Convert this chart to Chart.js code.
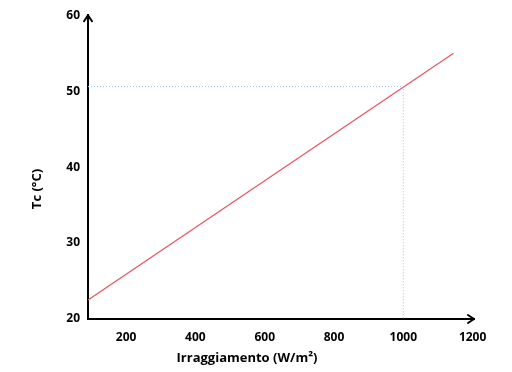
<!DOCTYPE html>
<html>
<head>
<meta charset="utf-8">
<script src="https://cdn.jsdelivr.net/npm/chart.js@4/dist/chart.umd.min.js"></script>
<style>
html,body{margin:0;padding:0;background:#fff;}
#wrap{width:512px;height:372px;position:relative;}
</style>
</head>
<body>
<div id="wrap"><canvas id="c" width="512" height="372"></canvas></div>
<script>
// Data
const irradiance = [90, 1145];
const tcValues = [22.5, 55];
const guideX = [90, 1000, 1000];
const guideY = [50.6, 50.6, 20];
const xTicks = [200, 400, 600, 800, 1000, 1200];
const yTicks = [20, 30, 40, 50, 60];
const xTitle = 'Irraggiamento (W/m²)';
const yTitle = 'Tc (°C)';

const FONT = '"Open Sans", Lato, sans-serif';

const axisDeco = {
  id: 'axisDeco',
  afterDraw(chart) {
    const {ctx, chartArea: a} = chart;
    ctx.save();
    ctx.strokeStyle = '#000';
    ctx.lineWidth = 2;
    ctx.lineCap = 'round';
    ctx.lineJoin = 'round';
    // top arrow
    ctx.beginPath();
    ctx.moveTo(a.left - 4, a.top + 6);
    ctx.lineTo(a.left, a.top);
    ctx.lineTo(a.left + 4, a.top + 6);
    ctx.stroke();
    // right arrow
    ctx.beginPath();
    ctx.moveTo(a.right - 6, a.bottom - 4);
    ctx.lineTo(a.right, a.bottom);
    ctx.lineTo(a.right - 6, a.bottom + 4);
    ctx.stroke();
    // titles
    ctx.fillStyle = '#000';
    ctx.font = 'bold 13px ' + FONT;
    ctx.textAlign = 'center';
    ctx.textBaseline = 'middle';
    ctx.fillText(xTitle, 247, 358);
    ctx.translate(37, 189);
    ctx.rotate(-Math.PI / 2);
    ctx.fillText(yTitle, 0, 0);
    ctx.restore();
  }
};

new Chart(document.getElementById('c'), {
  type: 'scatter',
  data: {
    datasets: [
      {
        data: guideX.map((x, i) => ({x, y: guideY[i]})),
        showLine: true,
        borderColor: '#9dc3e6',
        borderWidth: 1,
        borderDash: [1, 2],
        pointRadius: 0,
        fill: false
      },
      {
        data: irradiance.map((x, i) => ({x, y: tcValues[i]})),
        showLine: true,
        borderColor: '#e9545e',
        borderWidth: 1.2,
        pointRadius: 0,
        fill: false
      }
    ]
  },
  options: {
    responsive: false,
    animation: false,
    layout: {padding: {top: 15, right: 38, left: 0, bottom: 0}},
    plugins: {legend: {display: false}, tooltip: {enabled: false}},
    scales: {
      x: {
        type: 'linear',
        min: 90,
        max: 1204,
        afterBuildTicks(s) { s.ticks = xTicks.map(v => ({value: v})); },
        afterFit(s) { s.height = 53; },
        grid: {display: false, drawTicks: false},
        border: {display: true, color: '#000', width: 2},
        ticks: {
          padding: 11,
          color: '#000',
          callback: v => String(v),
          font: {family: FONT, size: 12, weight: 'bold'}
        }
      },
      y: {
        type: 'linear',
        min: 20,
        max: 60,
        afterBuildTicks(s) { s.ticks = yTicks.map(v => ({value: v})); },
        afterFit(s) { s.width = 88; },
        grid: {display: false, drawTicks: false},
        border: {display: true, color: '#000', width: 2},
        ticks: {
          padding: 8,
          color: '#000',
          callback: v => String(v),
          font: {family: FONT, size: 12, weight: 'bold'}
        }
      }
    }
  },
  plugins: [axisDeco]
});
</script>
</body>
</html>
